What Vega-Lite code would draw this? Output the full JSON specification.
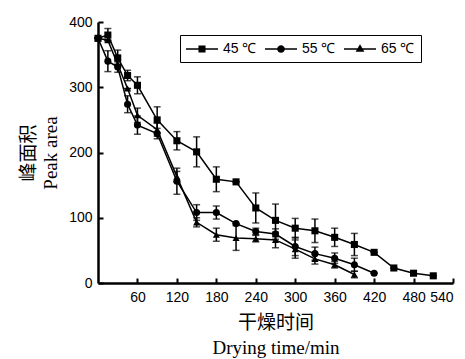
{
  "$schema": "https://vega.github.io/schema/vega-lite/v6.json",
  "width": 355,
  "height": 261,
  "autosize": {"type": "none"},
  "padding": {"left": 98, "top": 22, "right": 12, "bottom": 76},
  "background": "white",
  "config": {
    "view": {"stroke": null},
    "axis": {
      "grid": false,
      "domainColor": "black",
      "domainWidth": 2.5,
      "tickColor": "black",
      "tickWidth": 2,
      "labelColor": "black",
      "labelFont": "Liberation Sans",
      "labelFontSize": 14,
      "titleColor": "black",
      "titleFont": "Liberation Serif, Noto Sans CJK SC",
      "titleFontSize": 19,
      "titleFontWeight": "normal"
    },
    "legend": {
      "labelFont": "Liberation Sans",
      "labelFontSize": 14,
      "labelColor": "black"
    }
  },
  "data": {
    "values": [
      {"t": 0, "s": "45 ℃", "y": 375, "lo": 375, "hi": 375},
      {"t": 15, "s": "45 ℃", "y": 380, "lo": 370, "hi": 390},
      {"t": 30, "s": "45 ℃", "y": 345, "lo": 333, "hi": 357},
      {"t": 45, "s": "45 ℃", "y": 318, "lo": 310, "hi": 326},
      {"t": 60, "s": "45 ℃", "y": 303, "lo": 290, "hi": 316},
      {"t": 90, "s": "45 ℃", "y": 250, "lo": 230, "hi": 270},
      {"t": 120, "s": "45 ℃", "y": 218, "lo": 204, "hi": 232},
      {"t": 150, "s": "45 ℃", "y": 201, "lo": 178, "hi": 224},
      {"t": 180, "s": "45 ℃", "y": 159, "lo": 140, "hi": 178},
      {"t": 210, "s": "45 ℃", "y": 155, "lo": 155, "hi": 155},
      {"t": 240, "s": "45 ℃", "y": 115, "lo": 92, "hi": 138},
      {"t": 270, "s": "45 ℃", "y": 96, "lo": 71, "hi": 121},
      {"t": 300, "s": "45 ℃", "y": 84, "lo": 69, "hi": 99},
      {"t": 330, "s": "45 ℃", "y": 80, "lo": 62, "hi": 98},
      {"t": 360, "s": "45 ℃", "y": 70, "lo": 56, "hi": 84},
      {"t": 390, "s": "45 ℃", "y": 59, "lo": 42, "hi": 76},
      {"t": 420, "s": "45 ℃", "y": 47, "lo": 47, "hi": 47},
      {"t": 450, "s": "45 ℃", "y": 23, "lo": 23, "hi": 23},
      {"t": 480, "s": "45 ℃", "y": 15, "lo": 15, "hi": 15},
      {"t": 510, "s": "45 ℃", "y": 11, "lo": 11, "hi": 11},
      {"t": 0, "s": "55 ℃", "y": 375, "lo": 375, "hi": 375},
      {"t": 15, "s": "55 ℃", "y": 340, "lo": 324, "hi": 356},
      {"t": 30, "s": "55 ℃", "y": 331, "lo": 323, "hi": 339},
      {"t": 45, "s": "55 ℃", "y": 274, "lo": 261, "hi": 287},
      {"t": 60, "s": "55 ℃", "y": 242, "lo": 228, "hi": 256},
      {"t": 90, "s": "55 ℃", "y": 229, "lo": 221, "hi": 237},
      {"t": 120, "s": "55 ℃", "y": 156, "lo": 136, "hi": 176},
      {"t": 150, "s": "55 ℃", "y": 108, "lo": 96, "hi": 120},
      {"t": 180, "s": "55 ℃", "y": 108, "lo": 98, "hi": 118},
      {"t": 210, "s": "55 ℃", "y": 91, "lo": 91, "hi": 91},
      {"t": 240, "s": "55 ℃", "y": 79, "lo": 74, "hi": 84},
      {"t": 270, "s": "55 ℃", "y": 75, "lo": 67, "hi": 83},
      {"t": 300, "s": "55 ℃", "y": 56, "lo": 42, "hi": 70},
      {"t": 330, "s": "55 ℃", "y": 45, "lo": 35, "hi": 55},
      {"t": 360, "s": "55 ℃", "y": 38, "lo": 30, "hi": 46},
      {"t": 390, "s": "55 ℃", "y": 28, "lo": 18, "hi": 38},
      {"t": 420, "s": "55 ℃", "y": 15, "lo": 15, "hi": 15},
      {"t": 0, "s": "65 ℃", "y": 375, "lo": 375, "hi": 375},
      {"t": 15, "s": "65 ℃", "y": 372, "lo": 372, "hi": 372},
      {"t": 30, "s": "65 ℃", "y": 335, "lo": 335, "hi": 335},
      {"t": 45, "s": "65 ℃", "y": 298, "lo": 298, "hi": 298},
      {"t": 60, "s": "65 ℃", "y": 257, "lo": 246, "hi": 268},
      {"t": 90, "s": "65 ℃", "y": 235, "lo": 225, "hi": 245},
      {"t": 120, "s": "65 ℃", "y": 163, "lo": 155, "hi": 171},
      {"t": 150, "s": "65 ℃", "y": 93, "lo": 86, "hi": 100},
      {"t": 180, "s": "65 ℃", "y": 74, "lo": 64, "hi": 84},
      {"t": 210, "s": "65 ℃", "y": 69, "lo": 50, "hi": 88},
      {"t": 240, "s": "65 ℃", "y": 68, "lo": 63, "hi": 73},
      {"t": 270, "s": "65 ℃", "y": 66, "lo": 54, "hi": 78},
      {"t": 300, "s": "65 ℃", "y": 52, "lo": 38, "hi": 66},
      {"t": 330, "s": "65 ℃", "y": 37, "lo": 29, "hi": 45},
      {"t": 360, "s": "65 ℃", "y": 28, "lo": 23, "hi": 33},
      {"t": 390, "s": "65 ℃", "y": 13, "lo": 8, "hi": 18}
    ]
  },
  "encoding": {
    "x": {
      "field": "t",
      "type": "quantitative",
      "scale": {"domain": [0, 540], "nice": false},
      "axis": {
        "values": [60, 120, 180, 240, 300, 360, 420, 480, 540],
        "tickSize": -5,
        "labelPadding": 12,
        "title": ["干燥时间", "Drying time/min"],
        "titleBaseline": "middle",
        "titleAlign": "center",
        "titleLineHeight": 25,
        "titleX": 177.5,
        "titleY": 39
      }
    }
  },
  "layer": [
    {
      "mark": {"type": "rule", "color": "black", "strokeWidth": 1.5},
      "encoding": {
        "y": {"field": "lo", "type": "quantitative", "scale": {"domain": [0, 400], "nice": false},
          "axis": {
            "values": [0, 50, 100, 150, 200, 250, 300, 350, 400],
            "tickSize": -5,
            "labelPadding": 11,
            "title": ["峰面积", "Peak area"],
            "titleAngle": -90,
            "titleBaseline": "middle",
            "titleAlign": "center",
            "titleLineHeight": 22,
            "titleX": -70,
            "titleY": 130.5
          }},
        "y2": {"field": "hi"}
      }
    },
    {
      "mark": {"type": "tick", "orient": "horizontal", "color": "black", "size": 7, "thickness": 1.5},
      "encoding": {"y": {"field": "lo", "type": "quantitative"}}
    },
    {
      "mark": {"type": "tick", "orient": "horizontal", "color": "black", "size": 7, "thickness": 1.5},
      "encoding": {"y": {"field": "hi", "type": "quantitative"}}
    },
    {
      "mark": {"type": "line", "color": "black", "strokeWidth": 1.5},
      "encoding": {
        "y": {"field": "y", "type": "quantitative"},
        "detail": {"field": "s"},
        "order": {"field": "t"}
      }
    },
    {
      "mark": {"type": "point", "filled": true, "color": "black", "opacity": 1, "size": 50},
      "encoding": {
        "y": {"field": "y", "type": "quantitative"},
        "shape": {"field": "s", "type": "nominal",
          "scale": {"domain": ["45 ℃", "55 ℃", "65 ℃"], "range": ["square", "circle", "triangle-up"]},
          "legend": null}
      }
    },
    {
      "mark": {"type": "point", "filled": true, "color": "black", "opacity": 0, "size": 256},
      "encoding": {
        "y": {"field": "y", "type": "quantitative"},
        "shape": {"field": "s", "type": "nominal",
          "scale": {"domain": ["45 ℃", "55 ℃", "65 ℃"], "range": [
            "M-1,-0.09H3V0.09H-1ZM0.56,-0.44H1.44V0.44H0.56Z",
            "M-1,-0.09H3V0.09H-1ZM0.52,0A0.48,0.48,0,1,1,1.48,0A0.48,0.48,0,1,1,0.52,0Z",
            "M-1,-0.09H3V0.09H-1ZM1,-0.6L1.55,0.35H0.45Z"
          ]},
          "legend": {
            "title": null,
            "orient": "none",
            "legendX": 82,
            "legendY": 13,
            "direction": "horizontal",
            "columns": 3,
            "strokeColor": "black",
            "padding": 6,
            "symbolSize": 256,
            "symbolOpacity": 1,
            "symbolFillColor": "black",
            "symbolStrokeColor": "black",
            "symbolStrokeWidth": 0,
            "labelOffset": 21,
            "columnPadding": 8
          }}
      }
    }
  ],
  "resolve": {"scale": {"shape": "independent"}, "legend": {"shape": "independent"}}
}
